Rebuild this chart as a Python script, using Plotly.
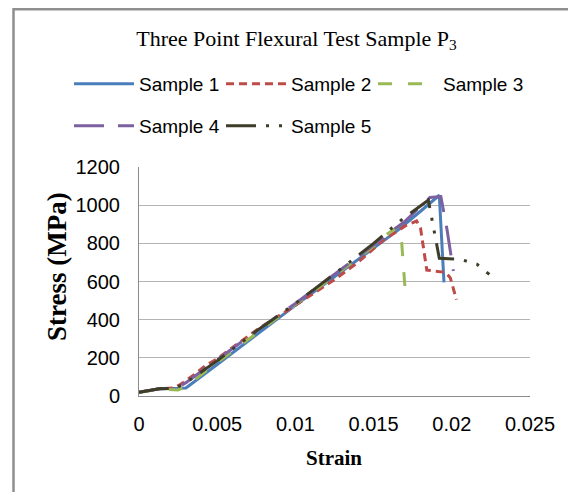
import plotly.graph_objects as go

# ---- data ----
strain_s1 = [0, 0.0013, 0.0025, 0.003, 0.005, 0.0075, 0.01, 0.0125, 0.015, 0.0165, 0.018, 0.0192, 0.0195]
stress_s1 = [20, 38, 40, 42, 165, 320, 475, 625, 775, 865, 968, 1052, 595]

strain_s2 = [0, 0.0013, 0.0022, 0.0026, 0.0035, 0.0043, 0.005, 0.0075, 0.01, 0.0125, 0.014, 0.0156, 0.0171, 0.01775, 0.0180, 0.0184, 0.0196, 0.0199, 0.0203]
stress_s2 = [20, 38, 42, 58, 110, 162, 195, 345, 475, 610, 700, 815, 895, 917, 880, 660, 648, 620, 505]

strain_s3 = [0, 0.0013, 0.0025, 0.003, 0.005, 0.0075, 0.01, 0.0125, 0.015, 0.0158, 0.0166, 0.0168, 0.0170]
stress_s3 = [18, 35, 32, 50, 175, 330, 480, 630, 785, 845, 888, 800, 575]

strain_s4 = [0, 0.0013, 0.0024, 0.003, 0.005, 0.0075, 0.01, 0.0125, 0.015, 0.017, 0.0186, 0.0193, 0.0197, 0.0201]
stress_s4 = [20, 38, 40, 70, 190, 340, 485, 640, 795, 915, 1040, 1045, 870, 655]

strain_s5 = [0, 0.0013, 0.0023, 0.003, 0.005, 0.0075, 0.01, 0.0125, 0.015, 0.0169, 0.0185, 0.0192, 0.0205, 0.0216, 0.0224]
stress_s5 = [20, 38, 40, 70, 185, 340, 485, 640, 800, 931, 1026, 722, 717, 691, 637]

series_names = ["Sample 1", "Sample 2", "Sample 3", "Sample 4", "Sample 5"]
x_tick_vals = [0, 0.005, 0.01, 0.015, 0.02, 0.025]
x_tick_text = ["0", "0.005", "0.01", "0.015", "0.02", "0.025"]
y_tick_vals = [0, 200, 400, 600, 800, 1000, 1200]
y_tick_text = ["0", "200", "400", "600", "800", "1000", "1200"]

title_text = "Three Point Flexural Test Sample P<sub>3</sub>"
x_title = "Strain"
y_title = "Stress (MPa)"

# ---- styling ----
colors = ["#4a7ebb", "#be4b48", "#98b954", "#7d60a0", "#3d3d29"]
dashes = ["solid", "8px,5px", "14px,16px", "30px,14px", "30px,10px,3px,10px,3px,10px"]
legends = ["legend", "legend", "legend", "legend2", "legend2"]

xs = [strain_s1, strain_s2, strain_s3, strain_s4, strain_s5]
ys = [stress_s1, stress_s2, stress_s3, stress_s4, stress_s5]

fig = go.Figure()
for i in range(5):
    fig.add_trace(go.Scatter(
        x=xs[i], y=ys[i], mode="lines", name=series_names[i],
        line=dict(color=colors[i], width=3, dash=dashes[i]),
        legend=legends[i],
    ))

# page body has an 8px margin: lay the figure out in window pixels minus that
OFF = 8
W, H = 576, 492
pw, ph = 391, 229
ml, mt = 139 - OFF, 167 - OFF
mr, mb = W - ml - pw, H - mt - ph

def px_x(p):
    return (p - OFF - ml) / pw

def px_y(p):
    return (H - mb - (p - OFF)) / ph

sans = "Liberation Sans"
serif = "Liberation Serif"

legend_common = dict(
    orientation="h", xanchor="left", yanchor="middle",
    font=dict(family=sans, size=19, color="#000000"),
    itemwidth=60, entrywidth=77, entrywidthmode="pixels",
    bgcolor="rgba(0,0,0,0)", borderwidth=0, tracegroupgap=0,
)

fig.update_layout(
    width=W, height=H,
    margin=dict(l=ml, r=mr, t=mt, b=mb, autoexpand=False),
    paper_bgcolor="white", plot_bgcolor="white",
    showlegend=True,
    title=dict(text=title_text, xref="container", yref="container",
               x=(296.5 - OFF) / W, y=1 - (38 - OFF) / H,
               xanchor="center", yanchor="middle",
               font=dict(family=serif, size=22, color="#000000")),
    legend=dict(x=px_x(69), y=px_y(84), **legend_common),
    legend2=dict(x=px_x(69), y=px_y(126), **legend_common),
    xaxis=dict(range=[0, 0.025], tickvals=x_tick_vals, ticktext=x_tick_text,
               showgrid=False, zeroline=False, showline=True,
               linecolor="#8c8c8c", linewidth=1, ticks="",
               ticklabelstandoff=10,
               tickfont=dict(family=sans, size=20, color="#000000")),
    yaxis=dict(range=[0, 1200], tickvals=y_tick_vals, ticktext=y_tick_text,
               showgrid=True, gridcolor="#b3b3b3", gridwidth=1,
               zeroline=False, showline=True,
               linecolor="#8c8c8c", linewidth=1, ticks="",
               ticklabelstandoff=14,
               tickfont=dict(family=sans, size=20, color="#000000")),
    annotations=[
        dict(text="<b>" + x_title + "</b>", xref="paper", yref="paper",
             x=px_x(334), y=px_y(458), xanchor="center", yanchor="middle",
             showarrow=False, font=dict(family=serif, size=21, color="#000000")),
        dict(text="<b>" + y_title + "</b>", xref="paper", yref="paper",
             x=px_x(57), y=px_y(267), xanchor="center", yanchor="middle",
             textangle=-90, showarrow=False,
             font=dict(family=serif, size=27, color="#000000")),
    ],
    shapes=[
        dict(type="rect", xref="paper", yref="paper",
             x0=px_x(13.5), x1=px_x(700), y0=px_y(700), y1=px_y(9.3),
             line=dict(color="#8f8f8f", width=2.5), fillcolor="rgba(0,0,0,0)",
             layer="below"),
    ],
)

fig.write_html("out.html")
